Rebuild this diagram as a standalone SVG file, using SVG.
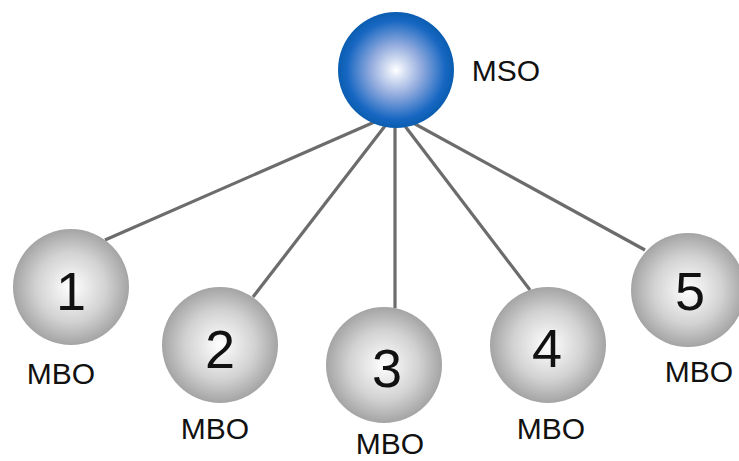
<svg xmlns="http://www.w3.org/2000/svg" width="739" height="461" viewBox="0 0 739 461">
<defs>
<radialGradient id="gBlue" cx="0.5" cy="0.5" r="0.5">
<stop offset="0" stop-color="#ffffff"/>
<stop offset="0.45" stop-color="#8fa9dd"/>
<stop offset="0.85" stop-color="#1767c2"/>
<stop offset="1" stop-color="#0a5db0"/>
</radialGradient>
<radialGradient id="gGray" cx="0.5" cy="0.5" r="0.5">
<stop offset="0" stop-color="#ffffff"/>
<stop offset="0.6" stop-color="#d2d2d2"/>
<stop offset="1" stop-color="#a4a4a4"/>
</radialGradient>
<style>
.mbo{fill:url(#gGray);}
.lbl{font-family:"Liberation Sans",Arial,sans-serif;font-size:30px;fill:#111;text-anchor:middle;}
.num{font-family:"Liberation Sans",Arial,sans-serif;font-size:54px;fill:#111;text-anchor:middle;}
.conn line{stroke:#6c6c6c;stroke-width:3.2;}
</style>
</defs>
<rect width="739" height="461" fill="#ffffff"/>
<g id="connectors" class="conn">
<line x1="395" y1="113" x2="105" y2="240"/>
<line x1="395" y1="113" x2="253" y2="297"/>
<line x1="395" y1="113" x2="395" y2="308"/>
<line x1="395" y1="113" x2="530" y2="290"/>
<line x1="395" y1="113" x2="645" y2="250"/>
</g>
<g id="mso">
<circle cx="396" cy="70" r="58" fill="url(#gBlue)"/>
<text x="506" y="81" class="lbl">MSO</text>
</g>
<g id="mbo1">
<circle cx="71" cy="287" r="58" class="mbo"/>
<text x="71" y="310" class="num">1</text>
<text x="61" y="384" class="lbl">MBO</text>
</g>
<g id="mbo2">
<circle cx="220" cy="345" r="58" class="mbo"/>
<text x="220" y="368" class="num">2</text>
<text x="215" y="439" class="lbl">MBO</text>
</g>
<g id="mbo3">
<circle cx="384" cy="365" r="58" class="mbo"/>
<text x="387" y="387" class="num">3</text>
<text x="390" y="454" class="lbl">MBO</text>
</g>
<g id="mbo4">
<circle cx="548" cy="345" r="58" class="mbo"/>
<text x="547" y="367" class="num">4</text>
<text x="551" y="439" class="lbl">MBO</text>
</g>
<g id="mbo5">
<circle cx="688" cy="290" r="57" class="mbo"/>
<text x="690" y="310" class="num">5</text>
<text x="699" y="382" class="lbl">MBO</text>
</g>
</svg>
